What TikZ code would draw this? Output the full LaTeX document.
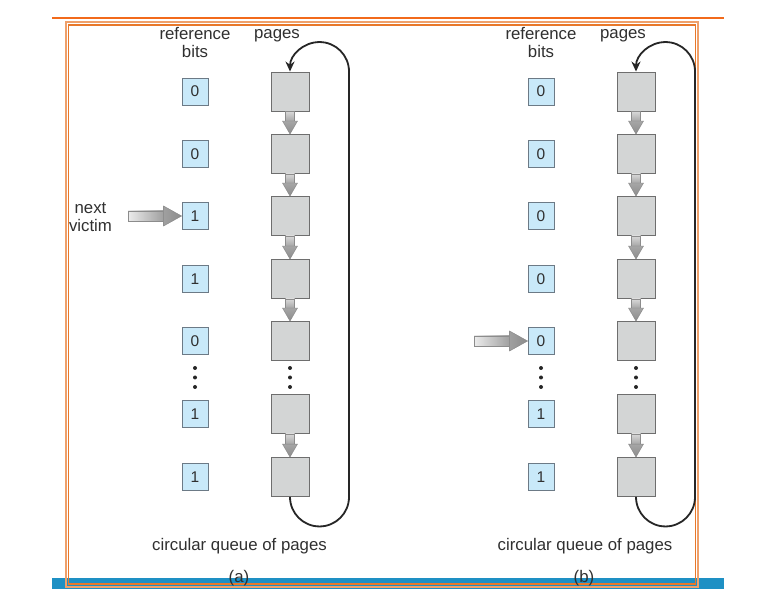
\documentclass[tikz,border=0pt]{standalone}
\usepackage{fontspec}
\setmainfont{Liberation Sans}
\usetikzlibrary{arrows.meta}
\definecolor{orng}{HTML}{F26A1B}
\definecolor{frameor}{HTML}{E8782A}
\definecolor{barblue}{HTML}{1E90C4}
\definecolor{bitfill}{HTML}{C9E9F9}
\definecolor{bitdraw}{HTML}{6C7A86}
\definecolor{pagefill}{HTML}{D3D5D5}
\definecolor{pagedraw}{HTML}{6E6E6E}
\definecolor{txt}{HTML}{303030}
\tikzset{
  bitbox/.style={draw=bitdraw, fill=bitfill, line width=0.9pt, minimum width=26pt,
    minimum height=27pt, inner sep=0pt, font=\fontsize{15.5}{16}\selectfont, text=txt},
  pagebox/.style={draw=pagedraw, fill=pagefill, line width=0.9pt, minimum width=38pt,
    minimum height=39pt, inner sep=0pt},
  lbl/.style={text=txt, font=\fontsize{16.8}{18}\selectfont, align=center, inner sep=0pt},
  looparrow/.style={draw=black!85, line width=1.8pt, -{Stealth[length=10pt,width=9pt]}},
  fatvshaft/.style={draw=gray!90, line width=0.4pt, top color=gray!30, bottom color=gray!70},
  fatvhead/.style={draw=gray!95, line width=0.4pt, top color=gray!70, bottom color=gray!90},
  fathshaft/.style={draw=gray!90, line width=0.4pt, left color=gray!15, right color=gray!75},
  fathhead/.style={draw=gray!95, line width=0.4pt, left color=gray!75, right color=gray!90}
}
\begin{document}
\begin{tikzpicture}[x=1pt,y=1pt]
\useasboundingbox (0,0) rectangle (778,605);
\fill[white] (0,0) rectangle (778,605);
% frame
\fill[barblue] (52,16) rectangle (724,27);
\draw[orng, line width=2.5pt] (52,587) -- (724,587);
\draw[frameor!70, line width=1.6pt] (65.8,18.2) rectangle (698.2,582.8);
\draw[frameor, line width=1.2pt] (68.6,21) rectangle (695.4,580);
% nodes
\foreach \i/\y/\va/\vb in {1/513.5/0/0, 2/451/0/0, 3/389/1/0, 4/326/1/0, 5/264/0/0, 6/191/1/1, 7/128/1/1}{
  \node[bitbox] (ba\i) at (195,\y) {\va};
  \node[pagebox] (pa\i) at (290,\y) {};
  \node[bitbox] (bb\i) at (541,\y) {\vb};
  \node[pagebox] (pb\i) at (636,\y) {};
}
% dots
\foreach \x in {195,290,541,636}
  \foreach \y in {237,227.5,218}
    \fill[black!85] (\x,\y) circle[radius=2];
% arrows between pages
\foreach \p in {a,b}
  \foreach \i/\j in {1/2,2/3,3/4,4/5,6/7}{
    \shade[fatvshaft] ([xshift=-4.5pt]p\p\i.south) -- ([xshift=-4.5pt,yshift=13pt]p\p\j.north)
      -- ([xshift=4.5pt,yshift=13pt]p\p\j.north) -- ([xshift=4.5pt]p\p\i.south) -- cycle;
    \shade[fatvhead] ([xshift=-7.5pt,yshift=13pt]p\p\j.north) -- (p\p\j.north)
      -- ([xshift=7.5pt,yshift=13pt]p\p\j.north) -- cycle;
  }
% circular loops
\foreach \p in {a,b}
  \draw[looparrow] (p\p7.south) arc[start angle=180,end angle=360,radius=29.5]
    -- ([xshift=59pt]p\p1.north) arc[start angle=0,end angle=180,radius=29.5];
% next victim arrows
\coordinate (nva) at (128,389);
\coordinate (nvb) at (474,264);
\foreach \c/\t in {nva/ba3, nvb/bb5}{
  \shade[fathshaft] ([yshift=5pt]\c) -- ([xshift=-18pt,yshift=5pt]\t.west)
    -- ([xshift=-18pt,yshift=-5pt]\t.west) -- ([yshift=-5pt]\c) -- cycle;
  \shade[fathhead] ([xshift=-18pt,yshift=10pt]\t.west) -- (\t.west)
    -- ([xshift=-18pt,yshift=-10pt]\t.west) -- cycle;
}
% labels
\node[lbl] (rba) at (195,562) {reference\\bits};
\node[lbl, anchor=base] (pga) at (277,566) {pages};
\node[lbl] (nvt) at (90.5,388) {next\\victim};
\node[lbl, anchor=base] (cqa) at (239.5,55) {circular queue of pages};
\node[lbl, anchor=base] (capa) at (239,23) {(a)};
\node[lbl] (rbb) at (541,562) {reference\\bits};
\node[lbl, anchor=base] (pgb) at (623,566) {pages};
\node[lbl, anchor=base] (cqb) at (585,55) {circular queue of pages};
\node[lbl, anchor=base] (capb) at (584,23) {(b)};
\end{tikzpicture}
\end{document}
